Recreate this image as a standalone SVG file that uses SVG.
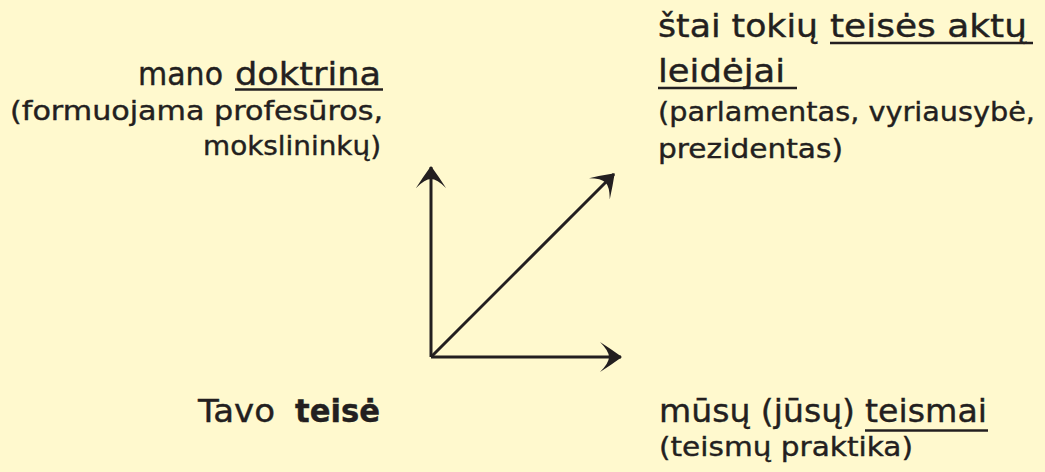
<svg xmlns="http://www.w3.org/2000/svg" width="1045" height="472" viewBox="0 0 1045 472">
  <defs>
    <style>
      .t { font-family: "DejaVu Sans", "Liberation Sans", sans-serif; fill: #231f20; stroke: #231f20; stroke-width: 0.4; }
      .big { font-size: 32px; }
      .small { font-size: 26.5px; }
      .ul { stroke: #231f20; stroke-width: 2.5; }
      .conn { stroke: #231f20; stroke-width: 3; fill: none; marker-end: url(#arr); }
    </style>
    <marker id="arr" markerUnits="userSpaceOnUse" viewBox="0 0 22 30" markerWidth="22" markerHeight="30" refX="21" refY="15" orient="auto">
      <path d="M22,15 Q11,7 0,0 Q9,9 9,15 Q9,21 0,30 Q11,23 22,15 Z" fill="#231f20"/>
    </marker>
  </defs>
  <rect width="1045" height="472" fill="#fff9ce"/>

  <g id="connectors">
    <line class="conn" x1="431" y1="357" x2="431" y2="167"/>
    <line class="conn" x1="431" y1="357" x2="614" y2="174"/>
    <line class="conn" x1="431" y1="357" x2="621" y2="357"/>
  </g>

  <g id="doktrina">
    <text class="t big" x="138" y="85" textLength="85" lengthAdjust="spacingAndGlyphs">mano</text>
    <text class="t big" x="235" y="85" textLength="146" lengthAdjust="spacingAndGlyphs">doktrina</text>
    <line class="ul" x1="235" y1="89.5" x2="383" y2="89.5"/>
    <text class="t small" x="383" y="120" text-anchor="end" textLength="373" lengthAdjust="spacingAndGlyphs">(formuojama profesūros,</text>
    <text class="t small" x="381" y="155" text-anchor="end" textLength="178" lengthAdjust="spacingAndGlyphs">mokslininkų)</text>
  </g>

  <g id="leidejai">
    <text class="t big" x="658" y="37" textLength="160" lengthAdjust="spacingAndGlyphs">štai tokių</text>
    <text class="t big" x="830" y="37" textLength="197" lengthAdjust="spacingAndGlyphs">teisės aktų</text>
    <line class="ul" x1="830" y1="43" x2="1033" y2="43"/>
    <text class="t big" x="658" y="82" textLength="127" lengthAdjust="spacingAndGlyphs">leidėjai</text>
    <line class="ul" x1="658" y1="88" x2="797" y2="88"/>
    <text class="t small" x="658" y="121" textLength="377" lengthAdjust="spacingAndGlyphs">(parlamentas, vyriausybė,</text>
    <text class="t small" x="658" y="158" textLength="185" lengthAdjust="spacingAndGlyphs">prezidentas)</text>
  </g>

  <g id="teise">
    <text class="t big" x="198" y="422" textLength="77" lengthAdjust="spacingAndGlyphs">Tavo</text>
    <text class="t big" x="295" y="422" font-weight="bold" textLength="85" lengthAdjust="spacingAndGlyphs">teisė</text>
  </g>

  <g id="teismai">
    <text class="t big" x="659" y="422" textLength="196" lengthAdjust="spacingAndGlyphs">mūsų (jūsų)</text>
    <text class="t big" x="865" y="422" textLength="122" lengthAdjust="spacingAndGlyphs">teismai</text>
    <line class="ul" x1="865" y1="430.5" x2="988" y2="430.5"/>
    <text class="t small" x="659" y="456" textLength="254" lengthAdjust="spacingAndGlyphs">(teismų praktika)</text>
  </g>
</svg>
